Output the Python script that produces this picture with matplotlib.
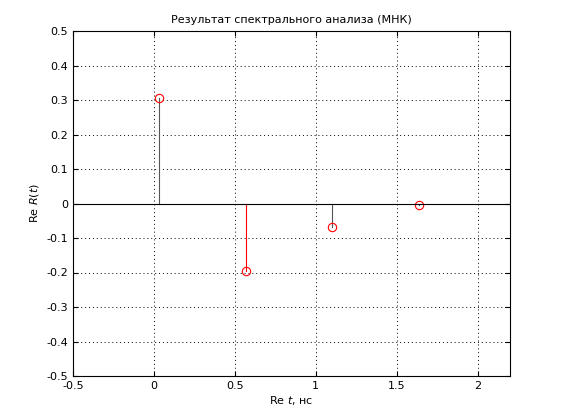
import numpy as np
import matplotlib.pyplot as plt

# --- dados ---
t_ns = [0.03, 0.57, 1.10, 1.64]
re_r = [0.305, -0.195, -0.068, -0.005]
stem_colors = ['#555555', 'red', '#555555', '#555555']

fig = plt.figure(figsize=(5.61, 4.2), dpi=100)
ax = fig.add_axes([73/561, 44/420, 437/561, 345/420])

for x, y, c in zip(t_ns, re_r, stem_colors):
    ax.plot([x, x], [0, y], color=c, lw=0.8)
ax.plot(t_ns, re_r, 'o', mfc='none', mec='red', ms=6, mew=0.8)
ax.axhline(0, color='black', lw=0.8)

ax.set_xlim(-0.5, 2.2)
ax.set_ylim(-0.5, 0.5)
yt = np.round(np.arange(-0.5, 0.51, 0.1), 1)
ax.set_xticks(np.arange(-0.5, 2.01, 0.5))
ax.set_yticks(yt)
ax.set_xticklabels(['-0.5', '0', '0.5', '1', '1.5', '2'])
ax.set_yticklabels([f'{v:g}' if v != 0 else '0' for v in yt])
ax.grid(True, linestyle=(0, (1, 3)), color='black', lw=0.7)
ax.tick_params(direction='in', labelsize=8, top=True, right=True)
ax.set_xlabel('Re $t$, нс', fontsize=8, labelpad=2)
ax.set_ylabel('Re $R(t)$', fontsize=8)
ax.set_title('Результат спектрального анализа (МНК)', fontsize=8)

fig.savefig('out.png', dpi=100)
